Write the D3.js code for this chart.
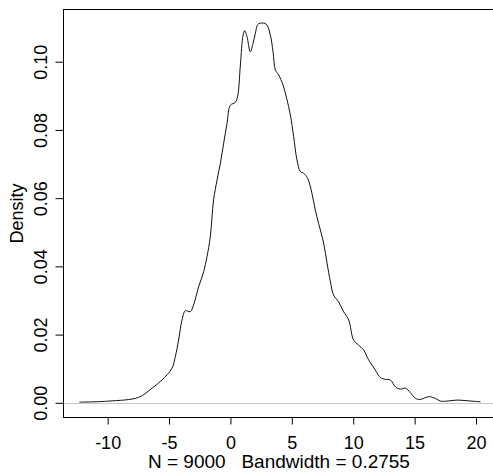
<!DOCTYPE html>
<html>
<head>
<meta charset="utf-8">
<script src="https://cdn.jsdelivr.net/npm/d3@7"></script>
<style>
  html, body { margin: 0; padding: 0; background: #fff; }
  svg { display: block; }
  text { font-family: "Liberation Sans", Arial, sans-serif; fill: #000; }
</style>
</head>
<body>
<svg id="chart" width="493" height="476"></svg>
<script>
// Density estimate (x, density)
const densX = [-12.30, -9.92, -7.48, -6.38, -5.57, -4.76, -4.49, -4.22, -3.94, -3.67, -3.27, -3.00,
  -2.59, -2.18, -1.91, -1.64, -1.37, -1.09, -0.82, -0.55, -0.28, -0.01, 0.40, 0.59, 0.81, 1.03,
  1.16, 1.35, 1.62, 1.84, 2.03, 2.21, 2.43, 2.92, 3.25, 3.47, 3.66, 3.93, 4.28, 4.59, 4.88, 5.15,
  5.42, 5.69, 5.96, 6.29, 6.64, 6.91, 7.18, 7.59, 7.87, 8.14, 8.40, 8.81, 9.22, 9.63, 10.03,
  10.44, 10.85, 11.25, 11.80, 12.21, 12.62, 13.02, 13.43, 13.84, 14.25, 14.65, 15.06, 15.46,
  16.14, 16.69, 17.10, 17.64, 18.45, 19.27, 20.36];
const densY = [0.0002, 0.0005, 0.0016, 0.0043, 0.0067, 0.0101, 0.0135, 0.0184, 0.0243, 0.0270,
  0.0267, 0.0287, 0.0340, 0.0384, 0.0428, 0.0487, 0.0595, 0.0653, 0.0702, 0.0761, 0.0819, 0.0872,
  0.0881, 0.0899, 0.0990, 0.1078, 0.1091, 0.1073, 0.1029, 0.1054, 0.1083, 0.1108, 0.1113, 0.1110,
  0.1078, 0.1029, 0.0976, 0.0961, 0.0932, 0.0891, 0.0844, 0.0780, 0.0712, 0.0678, 0.0673, 0.0658,
  0.0614, 0.0565, 0.0526, 0.0468, 0.0409, 0.0355, 0.0316, 0.0296, 0.0267, 0.0243, 0.0184, 0.0169,
  0.0155, 0.0126, 0.0096, 0.0074, 0.0069, 0.0067, 0.0047, 0.0040, 0.0043, 0.0030, 0.0013, 0.0010,
  0.0018, 0.0013, 0.0005, 0.0005, 0.0008, 0.0006, 0.0003];

const xTicks = [-10, -5, 0, 5, 10, 15, 20];
const yTicks = [0.00, 0.02, 0.04, 0.06, 0.08, 0.10];
const xTitle = "N = 9000   Bandwidth = 0.2755";
const yTitle = "Density";

const svg = d3.select("#chart");
const pLeft = 63.5, pRight = 496.4, pTop = 9.5, pBottom = 417.5;

const x = d3.scaleLinear().domain([-13.61, 21.66]).range([pLeft - 0.2, pRight]);
const y = d3.scaleLinear().domain([-0.00425, 0.11545]).range([pBottom - 0.2, pTop - 0.5]);

// zero line
svg.append("line")
  .attr("x1", pLeft).attr("x2", pRight)
  .attr("y1", Math.round(y(0)) + 0.5).attr("y2", Math.round(y(0)) + 0.5)
  .attr("stroke", "#c8c8c8").attr("stroke-width", 1);

// density curve
const pts = densX.map((d, i) => [d, densY[i]]);
svg.append("path")
  .datum(pts)
  .attr("fill", "none")
  .attr("stroke", "#111")
  .attr("stroke-width", 1)
  .attr("stroke-linejoin", "round")
  .attr("d", d3.line().x(d => x(d[0])).y(d => y(d[1])).curve(d3.curveCatmullRom.alpha(0.5)));

// box
svg.append("rect")
  .attr("x", pLeft).attr("y", pTop)
  .attr("width", pRight - pLeft + 5).attr("height", pBottom - pTop)
  .attr("fill", "none").attr("stroke", "#000").attr("stroke-width", 1);

// x axis
const gx = svg.append("g")
  .attr("transform", `translate(0,${pBottom})`)
  .call(d3.axisBottom(x).tickValues(xTicks).tickSize(7).tickSizeOuter(0)
    .tickFormat(d => d < 0 ? "-" + Math.abs(d) : String(d)));
gx.select(".domain").remove();
gx.selectAll(".tick line").attr("stroke", "#000");
gx.selectAll(".tick text")
  .attr("y", 0).attr("dy", 0)
  .attr("transform", "translate(0,31)")
  .style("font-size", "18px")
  .style("font-family", '"Liberation Sans", Arial, sans-serif')
  .attr("fill", "#000");

// y axis
const gy = svg.append("g")
  .attr("transform", `translate(${pLeft},0)`)
  .call(d3.axisLeft(y).tickValues(yTicks).tickSize(8).tickSizeOuter(0)
    .tickFormat(d3.format(".2f")));
gy.select(".domain").remove();
gy.selectAll(".tick line").attr("stroke", "#000");
gy.selectAll(".tick text")
  .attr("x", 0).attr("dy", 0)
  .attr("text-anchor", "middle")
  .attr("transform", "translate(-17,0) rotate(-90)")
  .style("font-size", "18px")
  .style("font-family", '"Liberation Sans", Arial, sans-serif')
  .attr("fill", "#000");

// axis titles
svg.append("text")
  .attr("x", (pLeft + pRight) / 2 - 1).attr("y", 468)
  .attr("text-anchor", "middle")
  .style("font-size", "19px")
  .style("white-space", "pre")
  .attr("xml:space", "preserve")
  .text(xTitle);

svg.append("text")
  .attr("transform", `translate(23,${(pTop + pBottom) / 2}) rotate(-90)`)
  .attr("text-anchor", "middle")
  .style("font-size", "18px")
  .text(yTitle);
</script>
</body>
</html>
